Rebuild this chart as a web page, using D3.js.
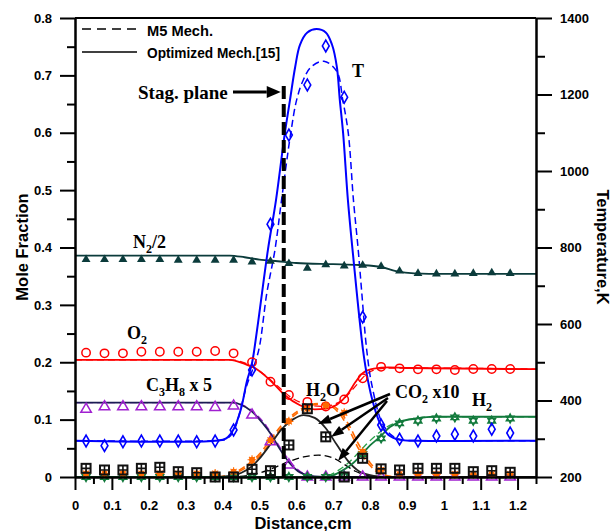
<!DOCTYPE html>
<html>
<head>
<meta charset="utf-8">
<script src="https://d3js.org/d3.v7.min.js"></script>
<style>
  body { margin: 0; background: #fff; }
  .tick text { font-family: "Liberation Sans", Arial, sans-serif; font-weight: bold; font-size: 13px; }
  .lbl { font-family: "Liberation Serif", "Times New Roman", serif; font-weight: bold; font-size: 18px; }
  .ttl { font-family: "Liberation Sans", Arial, sans-serif; font-weight: bold; font-size: 16.5px; }
</style>
</head>
<body>
<div id="chart"></div>
<script>
// marker positions (cm)
var mk = [0.03,0.08,0.13,0.18,0.23,0.28,0.33,0.38,0.43,0.48,0.53,0.58,0.63,0.68,0.73,0.78,0.83,0.88,0.93,0.98,1.03,1.08,1.13,1.18];

// experimental points
var tExp    = [294,282,292,294,294,294,292,294,323,480,861,1094,1225,1327,1193,618,336,299,294,307,312,307,325,315];
var n2Exp   = [0.379,0.379,0.379,0.379,0.379,0.378,0.378,0.378,0.378,0.375,0.376,0.372,0.364,0.370,0.368,0.369,0.367,0.359,0.355,0.354,0.354,0.355,0.356,0.355];
var o2Exp   = [0.2167,0.2155,0.2155,0.2184,0.2184,0.2184,0.2184,0.2196,0.2155,0.1999,0.166,0.143,0.131,0.123,0.135,0.172,0.192,0.1894,0.1876,0.1876,0.1865,0.1882,0.1882,0.1882];
var c3h8Exp = [0.118,0.1225,0.1225,0.1225,0.1225,0.1225,0.1225,0.1214,0.1237,0.108,0.0615,0.021,0,0,0,0,0,0,0,0,0,0,0,0];
var h2Exp   = [0,0,0,0,0,0,0,0,0,0,0,0,0,0,0.002,0.04,0.0674,0.0935,0.098,0.102,0.104,0.098,0.098,0.102];
var h2oExp  = [0.006,0.006,0.006,0.006,0.006,0.006,0.006,0.006,0.009,0.03,0.064,0.097,0.119,0.125,0.112,0.044,0.012,0.005,0.005,0.005,0.005,0.005,0.005,0.005];
var co2Exp  = [0.0151,0.0122,0.0122,0.0151,0.0169,0.0093,0.0075,0,0,0.0134,0.011,0.0558,0.119,0.070,0,0.0326,0.0142,0.0122,0.0151,0.0151,0.0151,0.0093,0.011,0.0082];

// computed profiles [distance, value]  (Opt = optimized mech., M5 = M5 mech.)
var tOpt = [[0,295],[0.38,295],[0.41,301],[0.43,325],[0.45,378],[0.466,450],[0.48,498],[0.493,580],[0.523,793],[0.545,924],[0.569,1099],[0.583,1186],[0.597,1272],[0.61,1330],[0.63,1362],[0.655,1371],[0.68,1362],[0.697,1330],[0.71,1272],[0.718,1186],[0.727,1099],[0.74,924],[0.754,780],[0.781,532],[0.794,454],[0.81,388],[0.827,341],[0.85,310],[0.881,297],[0.93,295],[1.25,295]];
var tM5  = [[0,295],[0.38,295],[0.41,299],[0.43,320],[0.466,440],[0.488,498],[0.50,540],[0.52,680],[0.542,793],[0.56,924],[0.585,1099],[0.601,1186],[0.619,1238],[0.64,1272],[0.675,1287],[0.71,1260],[0.726,1186],[0.741,1099],[0.755,924],[0.768,793],[0.777,689],[0.791,532],[0.805,440],[0.833,341],[0.86,308],[0.887,297],[0.93,295],[1.25,295]];
var n2Opt = [[0,0.386],[0.42,0.386],[0.46,0.383],[0.5,0.379],[0.55,0.376],[0.6,0.373],[0.7,0.371],[0.77,0.3695],[0.83,0.366],[0.87,0.359],[0.92,0.355],[1.0,0.354],[1.25,0.354]];
var o2Opt = [[0,0.204],[0.42,0.204],[0.46,0.197],[0.49,0.189],[0.53,0.168],[0.57,0.142],[0.61,0.125],[0.65,0.118],[0.68,0.119],[0.71,0.126],[0.74,0.145],[0.76,0.165],[0.78,0.181],[0.81,0.189],[0.85,0.191],[0.9,0.19],[1.25,0.188]];
var o2M5  = [[0,0.204],[0.42,0.204],[0.47,0.196],[0.51,0.18],[0.55,0.158],[0.59,0.137],[0.63,0.126],[0.67,0.123],[0.70,0.126],[0.73,0.137],[0.76,0.158],[0.79,0.179],[0.82,0.188],[0.86,0.19],[0.9,0.19],[1.25,0.188]];
var c3h8Opt = [[0,0.1295],[0.43,0.1295],[0.45,0.126],[0.48,0.114],[0.51,0.093],[0.53,0.076],[0.555,0.049],[0.58,0.026],[0.61,0.008],[0.65,0.001],[0.7,0],[1.25,0]];
var c3h8M5  = [[0,0.1295],[0.43,0.1295],[0.46,0.124],[0.49,0.11],[0.52,0.088],[0.54,0.068],[0.565,0.043],[0.59,0.022],[0.62,0.006],[0.66,0],[1.25,0]];
var h2oOpt = [[0,0],[0.38,0],[0.42,0.003],[0.46,0.015],[0.5,0.036],[0.53,0.06],[0.56,0.086],[0.6,0.11],[0.63,0.122],[0.66,0.127],[0.69,0.124],[0.72,0.108],[0.745,0.08],[0.77,0.048],[0.8,0.02],[0.83,0.005],[0.87,0],[1.25,0]];
var h2oM5  = [[0,0],[0.38,0],[0.42,0.004],[0.46,0.018],[0.5,0.04],[0.53,0.065],[0.56,0.09],[0.6,0.113],[0.63,0.124],[0.66,0.128],[0.69,0.126],[0.72,0.113],[0.745,0.088],[0.77,0.056],[0.8,0.025],[0.83,0.007],[0.87,0],[1.25,0]];
var co2Opt = [[0,0],[0.38,0],[0.42,0.002],[0.45,0.007],[0.48,0.019],[0.5,0.032],[0.53,0.057],[0.56,0.083],[0.59,0.1],[0.62,0.108],[0.65,0.103],[0.68,0.085],[0.71,0.056],[0.74,0.028],[0.77,0.01],[0.81,0.002],[0.85,0],[1.25,0]];
var co2M5  = [[0,0],[0.42,0],[0.48,0.004],[0.52,0.011],[0.55,0.019],[0.58,0.027],[0.62,0.035],[0.66,0.038],[0.7,0.033],[0.73,0.022],[0.76,0.01],[0.8,0.002],[0.83,0],[1.25,0]];
var h2Opt = [[0,0],[0.68,0],[0.70,0.003],[0.727,0.012],[0.75,0.022],[0.773,0.036],[0.80,0.055],[0.827,0.07],[0.854,0.087],[0.881,0.096],[0.927,0.102],[0.97,0.105],[1.25,0.105]];
var h2M5  = [[0,0],[0.67,0],[0.69,0.003],[0.715,0.012],[0.74,0.024],[0.765,0.04],[0.79,0.057],[0.815,0.072],[0.845,0.087],[0.875,0.096],[0.92,0.102],[0.97,0.105],[1.25,0.105]];

var stagX = 0.566;

// ticks
var xMajor = [0,0.1,0.2,0.3,0.4,0.5,0.6,0.7,0.8,0.9,1,1.1,1.2];
var xMinor = [0.05,0.15,0.25,0.35,0.45,0.55,0.65,0.75,0.85,0.95,1.05,1.15,1.25];
var yMajor = [0,0.1,0.2,0.3,0.4,0.5,0.6,0.7,0.8];
var yMinor = [0.05,0.15,0.25,0.35,0.45,0.55,0.65,0.75];
var tMajor = [200,400,600,800,1000,1200,1400];
var tMinor = [300,500,700,900,1100,1300];

var W = 613, H = 531;
var svg = d3.select("#chart").append("svg").attr("width", W).attr("height", H);

var x = d3.scaleLinear().domain([0, 1.25]).range([75, 536]);
var y = d3.scaleLinear().domain([0, 0.8]).range([477, 18]);
var yT = d3.scaleLinear().domain([200, 1400]).range([477, 18]);

var blue = "#0000ff", teal = "#0b3b3b", red = "#ff0000", navy = "#1c1c54",
    purple = "#a020d0", orange = "#ff6a00", green = "#127a3c";

// lines
function drawLine(data, sc, color, dashed, w, curve) {
  var line = d3.line().x(function(d) { return x(d[0]); }).y(function(d) { return sc(d[1]); })
    .curve(curve || d3.curveMonotoneX);
  svg.append("path").datum(data)
    .attr("d", line)
    .attr("fill", "none")
    .attr("stroke", color)
    .attr("stroke-width", w || (dashed ? 1.3 : 1.8))
    .attr("stroke-dasharray", dashed ? "7,4" : null);
}

drawLine(c3h8M5, y, purple, true);
drawLine(o2M5, y, red, true);
drawLine(h2oM5, y, orange, true, 1.6);
drawLine(h2oOpt, y, orange, true, 1.6);
drawLine(co2M5, y, "#000", true);
drawLine(h2M5, y, "#2aa04a", true);
drawLine(tM5, yT, blue, true, 1.5, d3.curveCatmullRom.alpha(0.5));

drawLine(n2Opt, y, teal, false);
drawLine(o2Opt, y, red, false);
drawLine(c3h8Opt, y, navy, false);
drawLine(co2Opt, y, "#222", false);
drawLine(h2Opt, y, green, false);
drawLine(tOpt, yT, blue, false, 2, d3.curveCatmullRom.alpha(0.5));

// markers
var g = svg.append("g");
function pts(vals) { return vals.map(function(v, i) { return [mk[i], v]; }); }

g.selectAll(".n2").data(pts(n2Exp)).enter().append("path")
  .attr("transform", function(d) { return "translate(" + x(d[0]) + "," + y(d[1]) + ")"; })
  .attr("d", d3.symbol().type(d3.symbolTriangle).size(34))
  .attr("fill", teal);

g.selectAll(".o2").data(pts(o2Exp)).enter().append("circle")
  .attr("cx", function(d) { return x(d[0]); })
  .attr("cy", function(d) { return y(d[1]); })
  .attr("r", 4.2).attr("fill", "none").attr("stroke", red).attr("stroke-width", 1.5);

g.selectAll(".c3").data(pts(c3h8Exp)).enter().append("path")
  .attr("transform", function(d) { return "translate(" + x(d[0]) + "," + y(d[1]) + ")"; })
  .attr("d", d3.symbol().type(d3.symbolTriangle).size(48))
  .attr("fill", "none").attr("stroke", purple).attr("stroke-width", 1.5);

function hexagram(r) {
  var a = 0.866 * r;
  return "M0," + (-r) + "L" + a + "," + (r / 2) + "L" + (-a) + "," + (r / 2) + "Z" +
         "M0," + r + "L" + a + "," + (-r / 2) + "L" + (-a) + "," + (-r / 2) + "Z";
}
g.selectAll(".h2").data(pts(h2Exp)).enter().append("path")
  .attr("transform", function(d) { return "translate(" + x(d[0]) + "," + y(d[1]) + ")"; })
  .attr("d", hexagram(4.5))
  .attr("fill", "none").attr("stroke", green).attr("stroke-width", 1.4);

g.selectAll(".t").data(pts(tExp)).enter().append("path")
  .attr("transform", function(d) { return "translate(" + x(d[0]) + "," + yT(d[1]) + ")"; })
  .attr("d", d3.symbol().type(d3.symbolDiamond).size(40))
  .attr("fill", "none").attr("stroke", blue).attr("stroke-width", 1.6);

var h2oG = g.selectAll(".h2o").data(pts(h2oExp)).enter().append("g")
  .attr("transform", function(d) { return "translate(" + x(d[0]) + "," + y(d[1]) + ")"; });
h2oG.append("circle").attr("r", 3).attr("fill", orange);
h2oG.append("path").attr("d", "M-4.5,0H4.5M0,-4.5V4.5M-3,-3L3,3M-3,3L3,-3")
  .attr("stroke", orange).attr("stroke-width", 1.1);

var co2G = g.selectAll(".co2").data(pts(co2Exp)).enter().append("g")
  .attr("transform", function(d) { return "translate(" + x(d[0]) + "," + y(d[1]) + ")"; });
co2G.append("rect").attr("x", -4.5).attr("y", -4.5).attr("width", 9).attr("height", 9)
  .attr("fill", "none").attr("stroke", "#111").attr("stroke-width", 2);
co2G.append("path").attr("d", "M-4.5,0H4.5M0,-4.5V4.5").attr("stroke", "#111").attr("stroke-width", 1.6);

// stagnation plane
svg.append("line")
  .attr("x1", x(stagX)).attr("x2", x(stagX))
  .attr("y1", 86).attr("y2", y(0))
  .attr("stroke", "#000").attr("stroke-width", 4).attr("stroke-dasharray", "13,5");

// axes
function styleAxis(sel) {
  sel.selectAll(".domain").attr("stroke-width", 2);
  sel.selectAll(".tick line").attr("stroke-width", 2);
}
svg.append("g").attr("transform", "translate(0," + y(0) + ")")
  .call(d3.axisBottom(x).tickValues(xMinor).tickSizeInner(7).tickSizeOuter(0).tickFormat(""))
  .call(styleAxis);
svg.append("g").attr("transform", "translate(0," + y(0) + ")")
  .call(d3.axisBottom(x).tickValues(xMajor).tickSizeInner(13).tickSizeOuter(0).tickPadding(11).tickFormat(d3.format("")))
  .call(styleAxis);

svg.append("g").attr("transform", "translate(" + x(0) + ",0)")
  .call(d3.axisLeft(y).tickValues(yMinor).tickSizeInner(8).tickSizeOuter(0).tickFormat(""))
  .call(styleAxis);
svg.append("g").attr("transform", "translate(" + x(0) + ",0)")
  .call(d3.axisLeft(y).tickValues(yMajor).tickSizeInner(15).tickSizeOuter(0).tickPadding(8).tickFormat(d3.format("")))
  .call(styleAxis);

svg.append("g").attr("transform", "translate(" + x(1.25) + ",0)")
  .call(d3.axisRight(yT).tickValues(tMinor).tickSizeInner(9).tickSizeOuter(0).tickFormat(""))
  .call(styleAxis);
svg.append("g").attr("transform", "translate(" + x(1.25) + ",0)")
  .call(d3.axisRight(yT).tickValues(tMajor).tickSizeInner(16).tickSizeOuter(0).tickPadding(8).tickFormat(d3.format("d")))
  .call(styleAxis);

// top frame
svg.append("line").attr("x1", x(0)).attr("x2", x(1.25)).attr("y1", y(0.8)).attr("y2", y(0.8))
  .attr("stroke", "#000").attr("stroke-width", 2);

// axis titles
svg.append("text").attr("class", "ttl").attr("x", 303).attr("y", 529)
  .attr("text-anchor", "middle").text("Distance,cm");
svg.append("text").attr("class", "ttl").attr("transform", "translate(28,247) rotate(-90)")
  .attr("text-anchor", "middle").text("Mole Fraction");
svg.append("text").attr("class", "ttl").attr("transform", "translate(597,247) rotate(90)")
  .attr("text-anchor", "middle").text("Temperature,K");

// legend
svg.append("line").attr("x1", 82).attr("x2", 137).attr("y1", 29).attr("y2", 29)
  .attr("stroke", "#000").attr("stroke-width", 1.3).attr("stroke-dasharray", "9,6");
svg.append("line").attr("x1", 82).attr("x2", 137).attr("y1", 52).attr("y2", 52)
  .attr("stroke", "#000").attr("stroke-width", 1.5);
svg.append("text").attr("x", 147).attr("y", 36)
  .style("font", "bold 15px 'Liberation Sans Narrow', 'Liberation Sans', Arial, sans-serif")
  .attr("textLength", 66).attr("lengthAdjust", "spacingAndGlyphs").text("M5 Mech.");
svg.append("text").attr("x", 147).attr("y", 58)
  .style("font", "bold 15px 'Liberation Sans Narrow', 'Liberation Sans', Arial, sans-serif")
  .attr("textLength", 133).attr("lengthAdjust", "spacingAndGlyphs").text("Optimized Mech.[15]");

// annotations
function label(px, py, parts) {
  var t = svg.append("text").attr("class", "lbl").attr("x", px).attr("y", py);
  parts.forEach(function(p) {
    var s = t.append("tspan").text(p[0]);
    if (p[1] === "sub") s.attr("font-size", "12px").attr("dy", 5);
    if (p[1] === "up") s.attr("dy", -5);
  });
}
svg.append("text").attr("class", "lbl").attr("x", 138).attr("y", 99).style("font-size", "19px").text("Stag. plane");
label(352, 77, [["T"]]);
label(133, 248, [["N"], ["2", "sub"], ["/2", "up"]]);
label(127, 339, [["O"], ["2", "sub"]]);
label(146, 391, [["C"], ["3", "sub"], ["H", "up"], ["8", "sub"], [" x 5", "up"]]);
label(306, 396, [["H"], ["2", "sub"], ["O", "up"]]);
label(395, 398, [["CO"], ["2", "sub"], [" x10", "up"]]);
label(472, 406, [["H"], ["2", "sub"]]);

// arrows
function arrow(x1, y1, x2, y2, len, half, w) {
  var ang = Math.atan2(y2 - y1, x2 - x1);
  var bx = x2 - len * Math.cos(ang), by = y2 - len * Math.sin(ang);
  svg.append("line").attr("x1", x1).attr("y1", y1).attr("x2", bx).attr("y2", by)
    .attr("stroke", "#000").attr("stroke-width", w);
  var px = -Math.sin(ang) * half, py = Math.cos(ang) * half;
  svg.append("path")
    .attr("d", "M" + x2 + "," + y2 + "L" + (bx + px) + "," + (by + py) + "L" + (bx - px) + "," + (by - py) + "Z")
    .attr("fill", "#000");
}
arrow(233, 92, x(stagX) - 3, 92, 14, 6, 3);
arrow(390, 394, x(0.659), y(0.0924), 13, 4.5, 2.5);
arrow(388, 398, x(0.694), y(0.0697), 13, 4.5, 2.5);
arrow(387, 401, x(0.713), y(0.0279), 13, 4.5, 2.5);
</script>
</body>
</html>
